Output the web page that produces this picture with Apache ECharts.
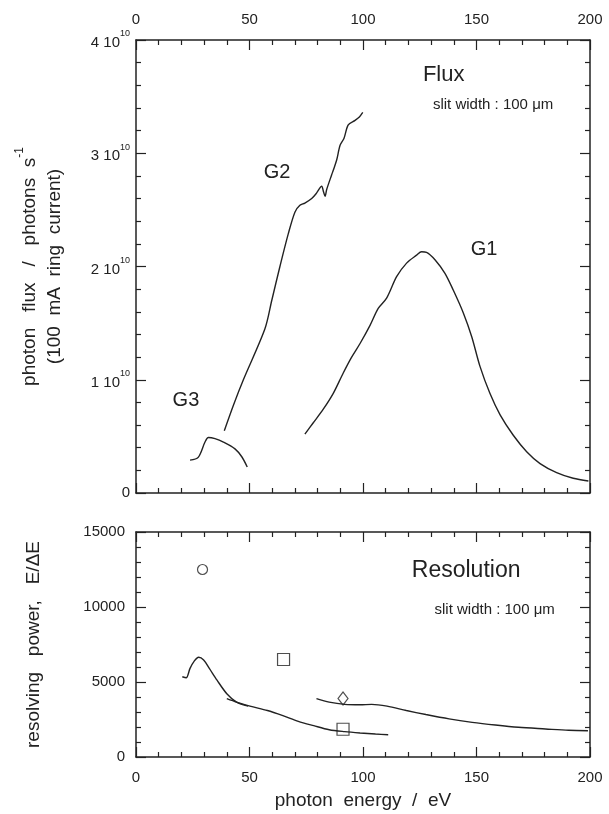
<!DOCTYPE html>
<html><head><meta charset="utf-8">
<script src="https://cdn.jsdelivr.net/npm/echarts@6/dist/echarts.min.js"></script>
<style>html,body{margin:0;padding:0;background:#fff}#c{width:609px;height:814px}</style>
</head><body><div id="c"></div><script>
// ---- data (flux in units of 10^10 photons/s, energy in eV) ----
const energyTicks = [0, 50, 100, 150, 200];
const fluxTicks = [0, 1, 2, 3, 4];
const resTicks = [0, 5000, 10000, 15000];

const g3FluxE = [23.8, 27.4, 30.4, 31.9, 34.8, 38.5, 43.6, 46.6, 49.0];
const g3FluxV = [0.29, 0.315, 0.45, 0.49, 0.48, 0.45, 0.39, 0.32, 0.23];

const g2FluxE = [38.9, 43.0, 47.3, 56.8, 59.8, 63.4, 67.1, 70.0, 72.2, 74.4, 77.4, 79.6, 81.8, 82.6, 83.3, 84.0, 86.2, 86.9, 88.4, 89.9, 91.6, 93.5, 96.5, 98.4, 99.9];
const g2FluxV = [0.55, 0.78, 1.00, 1.45, 1.70, 2.00, 2.29, 2.48, 2.54, 2.56, 2.60, 2.65, 2.71, 2.66, 2.62, 2.68, 2.81, 2.85, 2.94, 3.07, 3.13, 3.25, 3.29, 3.32, 3.36];

const g1FluxE = [74.4, 78.1, 82.5, 86.9, 91.3, 95.0, 98.7, 103.1, 106.7, 110.4, 114.8, 119.2, 123.6, 125.8, 128.0, 131.7, 136.1, 139.8, 144.2, 147.9, 151.5, 155.9, 160.4, 166.2, 172.1, 178.0, 185.3, 192.6, 199.3];
const g1FluxV = [0.52, 0.62, 0.74, 0.88, 1.06, 1.20, 1.32, 1.48, 1.63, 1.72, 1.91, 2.03, 2.10, 2.13, 2.125, 2.06, 1.94, 1.79, 1.59, 1.38, 1.12, 0.88, 0.69, 0.51, 0.365, 0.26, 0.18, 0.13, 0.106];

const g3ResE = [20.4, 22.1, 23.8, 25.5, 27.6, 29.8, 32.3, 35.7, 40.0, 44.3, 49.4];
const g3ResV = [5350, 5280, 5910, 6360, 6650, 6470, 5910, 5120, 4220, 3660, 3390];

const g2ResE = [40.0, 44.3, 50.2, 57.9, 64.7, 71.5, 78.3, 85.1, 91.9, 98.7, 105.5, 111.1];
const g2ResV = [3890, 3660, 3390, 3100, 2760, 2380, 2090, 1820, 1690, 1600, 1530, 1480];

const g1ResE = [79.5, 85.1, 91.9, 98.7, 103.8, 110.6, 119.1, 127.7, 137.9, 148.1, 158.3, 168.5, 180.4, 190.6, 199.1];
const g1ResV = [3890, 3660, 3510, 3480, 3510, 3390, 3100, 2830, 2540, 2310, 2130, 1980, 1870, 1780, 1750];

const measCircleE = [29.3], measCircleV = [12500];
const measSquareE = [65.0, 91.2], measSquareV = [6500, 1850];
const measDiamondE = [91.2], measDiamondV = [3900];

// annotation texts (anchor in data coordinates)
const topNotes = [
  {text: 'Flux', e: 126.4, v: 3.69, size: 22, align: 'left'},
  {text: 'slit width : 100 \u03bcm', e: 130.8, v: 3.43, size: 15, align: 'left'},
  {text: 'G2', e: 62.1, v: 2.83, size: 20, align: 'center'},
  {text: 'G1', e: 153.3, v: 2.15, size: 20, align: 'center'},
  {text: 'G3', e: 22.0, v: 0.82, size: 20, align: 'center'}
];
const bottomNotes = [
  {text: 'Resolution', e: 121.5, v: 12400, size: 23, align: 'left'},
  {text: 'slit width : 100 \u03bcm', e: 131.5, v: 9840, size: 15, align: 'left'}
];

// ---- chart ----
const INK = '#222';
const FONT = 'Liberation Sans';
const zip = (a, b) => a.map((x, i) => [x, b[i]]);

function xAx(grid, pos, labels) {
  return {
    type: 'value', gridIndex: grid, position: pos, min: 0, max: 200, interval: 50,
    axisLine: {show: true, onZero: false, lineStyle: {color: INK, width: 1.5}},
    axisTick: {show: true, inside: true, length: 10, lineStyle: {color: INK, width: 1.2}},
    minorTick: {show: true, splitNumber: 5, length: 5, lineStyle: {color: INK, width: 1.2}},
    splitLine: {show: false}, minorSplitLine: {show: false},
    axisLabel: {show: labels, margin: 13, fontSize: 15, color: INK, fontFamily: FONT,
      formatter: v => energyTicks.includes(v) ? String(v) : ''}
  };
}
function yAx(grid, pos, max, interval, labels, fmt, margin, extra) {
  return Object.assign({
    type: 'value', gridIndex: grid, position: pos, min: 0, max: max, interval: interval,
    axisLine: {show: true, onZero: false, lineStyle: {color: INK, width: 1.5}},
    axisTick: {show: true, inside: true, length: 10, lineStyle: {color: INK, width: 1.2}},
    minorTick: {show: true, splitNumber: 5, length: 5, lineStyle: {color: INK, width: 1.2}},
    splitLine: {show: false}, minorSplitLine: {show: false},
    axisLabel: {show: labels, margin: margin, fontSize: 15, color: INK, fontFamily: FONT, formatter: fmt,
      rich: {
        n: {fontSize: 15, color: INK, fontFamily: FONT, lineHeight: 21, verticalAlign: 'bottom'},
        s: {fontSize: 9, color: INK, fontFamily: FONT, lineHeight: 10, verticalAlign: 'top'}
      }}
  }, extra || {});
}
const fluxFmt = v => v === 0 ? '0' : '{n|' + v + ' 10}{s|10}';
const resFmt = v => String(v);

const lineStyle = {color: INK, width: 1.4};
function curve(name, e, v, gi) {
  return {name, type: 'line', xAxisIndex: gi === 0 ? 0 : 2, yAxisIndex: gi === 0 ? 0 : 2,
    data: zip(e, v), showSymbol: false, smooth: 0.3, lineStyle, silent: true, animation: false};
}
function pts(name, e, v, symbol, size) {
  return {name, type: 'scatter', xAxisIndex: 2, yAxisIndex: 2, data: zip(e, v), symbol, symbolSize: size,
    itemStyle: {color: '#fff', borderColor: INK, borderWidth: 1.2}, silent: true, animation: false};
}

const chart = echarts.init(document.getElementById('c'), null, {renderer: 'canvas'});
chart.setOption({
  backgroundColor: '#fff',
  animation: false,
  grid: [
    {left: 136, top: 40, width: 454, height: 453},
    {left: 136, top: 532, width: 454, height: 225}
  ],
  xAxis: [
    xAx(0, 'bottom', false), xAx(0, 'top', true),
    Object.assign(xAx(1, 'bottom', true), {name: 'photon  energy  /  eV', nameLocation: 'middle', nameGap: 34,
      nameTextStyle: {fontSize: 19, color: INK, fontFamily: FONT}}),
    xAx(1, 'top', false)
  ],
  yAxis: [
    yAx(0, 'left', 4, 1, true, fluxFmt, 6, {
      name: '{a|photon   flux   /   photons  s}{s|-1}\n{a|(100  mA  ring  current)}',
      nameLocation: 'middle', nameGap: 72,
      nameTextStyle: {color: INK, fontFamily: FONT, fontSize: 19, lineHeight: 25, align: 'center',
        rich: {
          a: {fontSize: 19, color: INK, fontFamily: FONT, lineHeight: 25, verticalAlign: 'bottom'},
          s: {fontSize: 12, color: INK, fontFamily: FONT, lineHeight: 12, verticalAlign: 'top'}
        }}
    }),
    yAx(0, 'right', 4, 1, false, fluxFmt, 6),
    yAx(1, 'left', 15000, 5000, true, resFmt, 11, {
      name: 'resolving   power,   E/\u0394E', nameLocation: 'middle', nameGap: 93,
      nameTextStyle: {fontSize: 19, color: INK, fontFamily: FONT}
    }),
    yAx(1, 'right', 15000, 5000, false, resFmt, 11)
  ],
  series: [
    curve('G3 flux', g3FluxE, g3FluxV, 0),
    curve('G2 flux', g2FluxE, g2FluxV, 0),
    curve('G1 flux', g1FluxE, g1FluxV, 0),
    curve('G3 res', g3ResE, g3ResV, 1),
    curve('G2 res', g2ResE, g2ResV, 1),
    curve('G1 res', g1ResE, g1ResV, 1),
    pts('circle', measCircleE, measCircleV, 'circle', 10),
    pts('square', measSquareE, measSquareV, 'rect', 12),
    pts('diamond', measDiamondE, measDiamondV, 'diamond', [10, 13])
  ]
});

// place annotation texts using the chart's own scales
const g = [];
function addNotes(notes, gridIndex) {
  notes.forEach(n => {
    const p = chart.convertToPixel({gridIndex: gridIndex}, [n.e, n.v]);
    g.push({type: 'text', x: p[0], y: p[1], silent: true,
      style: {text: n.text, fill: INK, font: n.size + 'px "' + FONT + '"', textAlign: n.align, textVerticalAlign: 'middle'}});
  });
}
addNotes(topNotes, 0);
addNotes(bottomNotes, 1);
chart.setOption({graphic: g});
</script></body></html>
